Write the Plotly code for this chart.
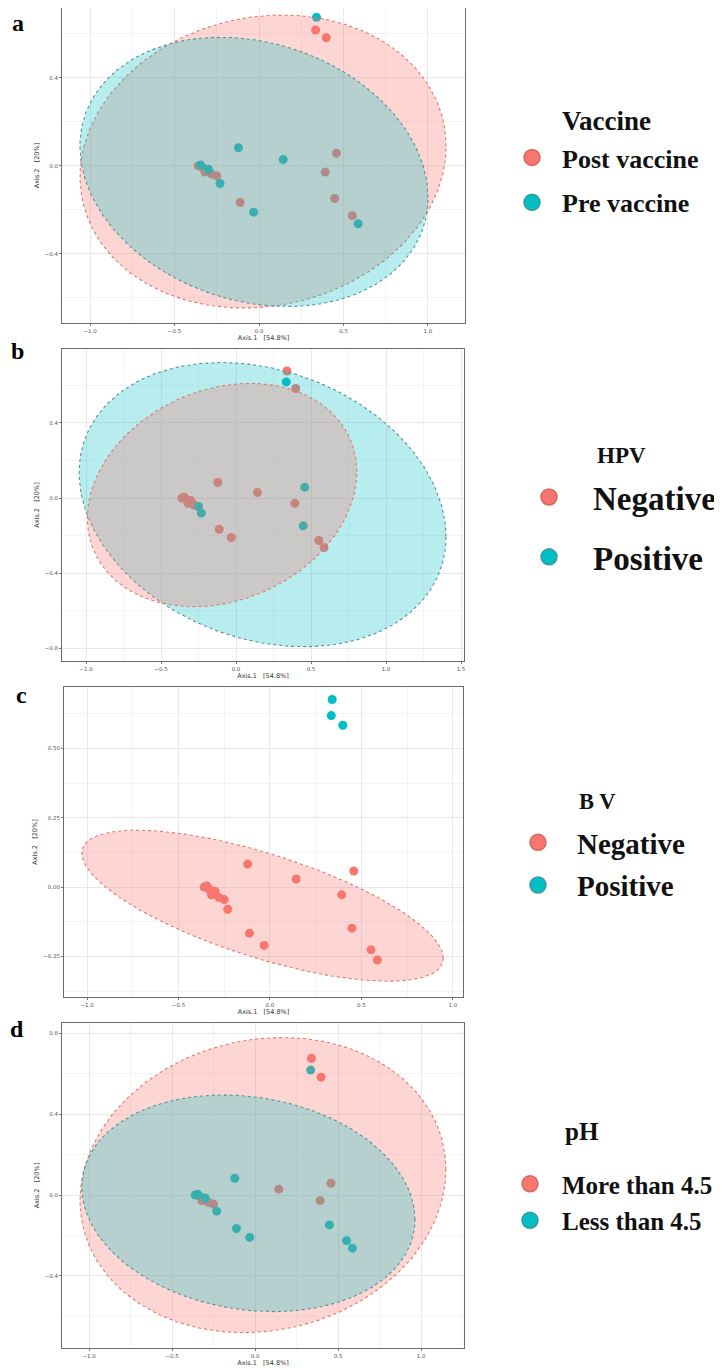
import numpy as np
import plotly.graph_objects as go

# ---------------- data ----------------
# PCoA sample coordinates (Axis.1, Axis.2)
sample_x = [0.340, 0.335, 0.398, -0.122, 0.143, 0.458, 0.392, 0.448, 0.552, 0.587,
            -0.112, -0.032, -0.231, -0.250, -0.360, -0.345, -0.332, -0.320, -0.300, -0.280]
sample_y = [0.676, 0.618, 0.583, 0.083, 0.029, 0.058, -0.028, -0.148, -0.226, -0.263,
            -0.166, -0.210, -0.080, -0.045, 0.000, 0.004, -0.008, -0.028, -0.015, -0.037]

vaccine = ["Pre vaccine", "Post vaccine", "Post vaccine", "Pre vaccine", "Pre vaccine",
           "Post vaccine", "Post vaccine", "Post vaccine", "Post vaccine", "Pre vaccine",
           "Post vaccine", "Pre vaccine", "Pre vaccine", "Post vaccine", "Post vaccine",
           "Pre vaccine", "Post vaccine", "Post vaccine", "Pre vaccine", "Post vaccine"]
hpv = ["Negative", "Positive", "Negative", "Negative", "Negative", "Positive", "Negative",
       "Positive", "Negative", "Negative", "Negative", "Negative", "Positive", "Positive",
       "Negative", "Negative", "Negative", "Negative", "Negative", "Negative"]
bv = ["Positive", "Positive", "Positive"] + ["Negative"] * 17
ph = ["More than 4.5", "Less than 4.5", "More than 4.5", "Less than 4.5", "More than 4.5",
      "More than 4.5", "More than 4.5", "Less than 4.5", "Less than 4.5", "Less than 4.5",
      "Less than 4.5", "Less than 4.5", "Less than 4.5", "More than 4.5", "Less than 4.5",
      "Less than 4.5", "More than 4.5", "More than 4.5", "Less than 4.5", "More than 4.5"]

panel_letters = ["a", "b", "c", "d"]
legend_titles = ["Vaccine", "HPV", "B V", "pH"]
panel_groups = [vaccine, hpv, bv, ph]
group_levels = [["Post vaccine", "Pre vaccine"], ["Negative", "Positive"],
                ["Negative", "Positive"], ["More than 4.5", "Less than 4.5"]]

x_title = "Axis.1   [54.8%]"
y_title = "Axis.2   [20%]"

# ellipse parameters per panel: level -> (cx, cy, half-width x, half-height y, phase deg)
ellipse_params = [
    {"Post vaccine": (0.024, 0.020, 1.083, 0.666, 84), "Pre vaccine": (-0.030, -0.027, 1.030, 0.612, 101)},
    {"Positive": (0.177, -0.035, 1.223, 0.756, 103), "Negative": (-0.093, 0.016, 0.898, 0.594, 78)},
    {"Negative": (-0.041, -0.067, 0.988, 0.272, 134)},
    {"More than 4.5": (0.048, 0.049, 1.102, 0.730, 84), "Less than 4.5": (-0.040, -0.041, 1.004, 0.536, 98.6)},
]
ellipse_order = [["Post vaccine", "Pre vaccine"], ["Positive", "Negative"],
                 ["Negative"], ["More than 4.5", "Less than 4.5"]]

x_ranges = [[-1.166, 1.219], [-1.16, 1.52], [-1.126, 1.055], [-1.163, 1.259]]
y_ranges = [[-0.714, 0.718], [-0.867, 0.793], [-0.396, 0.721], [-0.757, 0.851]]
y_dticks = [0.4, 0.4, 0.25, 0.4]
y_formats = [".1f", ".1f", ".2f", ".1f"]

# ---------------- style ----------------
OFF = 8                      # page body margin of the html page
W, H = 722 - OFF, 1370 - OFF
RED, CYAN = "#F8766D", "#00BFC4"
RED_EDGE, CYAN_EDGE = "#D9675F", "#3E9A9C"
colors = {0: RED, 1: CYAN}
fills = {0: "rgba(248,118,109,0.30)", 1: "rgba(0,191,196,0.28)"}
edges = {0: "#E0766E", 1: "#4F9496"}

# page pixel positions (converted with OFF)
plot_px = [(62, 465, 8, 323), (62, 464, 349, 661), (64, 463, 687, 997), (62, 464, 1023, 1348)]
label_px = [(18, 8), (17, 336), (21, 680), (8, 1014)]

# legend: text start x, middle y between the two rows, font size, symbol-to-text distance
legend_cfg = [
    dict(text_x=562, mid=180, size=26, dist=30, gap=8),
    dict(text_x=593, mid=527, size=33, dist=44, gap=14),
    dict(text_x=577, mid=864, size=29, dist=39, gap=2),
    dict(text_x=562, mid=1202, size=25, dist=32, gap=1),
]
# legend headings: left x, centre y, font size
heading_cfg = [(560, 121, 27), (595, 455, 23), (577, 801, 22.5), (563, 1131, 25)]


def fx(px):
    return min(max((px - OFF) / W, 0), 1)


def fy(py):
    return min(max(1 - (py - OFF) / H, 0), 1)


fig = go.Figure()
SERIF = "Liberation Serif"

for p in range(4):
    sfx = "" if p == 0 else str(p + 1)
    xa, ya = "x" + sfx, "y" + sfx
    lg = "legend" + sfx
    levels = group_levels[p]
    groups = panel_groups[p]
    # points (drawn first, under the ellipses)
    for li, lev in enumerate(levels):
        xs = [sample_x[i] for i in range(len(sample_x)) if groups[i] == lev]
        ys = [sample_y[i] for i in range(len(sample_y)) if groups[i] == lev]
        fig.add_trace(go.Scatter(
            x=xs, y=ys, mode="markers", xaxis=xa, yaxis=ya, showlegend=False,
            marker=dict(size=9, color=colors[li], line=dict(width=0)), hoverinfo="x+y"))
    # ellipses
    t = np.linspace(0, 2 * np.pi, 241)
    for lev in ellipse_order[p]:
        li = levels.index(lev)
        cx, cy, ax_, by_, ph_ = ellipse_params[p][lev]
        ex = cx + ax_ * np.cos(t)
        ey = cy + by_ * np.cos(t - np.deg2rad(ph_))
        fig.add_trace(go.Scatter(
            x=ex, y=ey, mode="lines", fill="toself", fillcolor=fills[li],
            line=dict(color=edges[li], width=1.1, dash="dot"),
            xaxis=xa, yaxis=ya, showlegend=False, hoverinfo="skip"))
    # legend entries
    for li, lev in enumerate(levels):
        fig.add_trace(go.Scatter(
            x=[None], y=[None], mode="markers", name=lev, legend=lg, legendgroup=f"{p}-{lev}",
            xaxis=xa, yaxis=ya,
            marker=dict(size=30, color=colors[li],
                        line=dict(width=1.5, color=RED_EDGE if li == 0 else CYAN_EDGE))))

    x0, x1, y0, y1 = plot_px[p]
    common = dict(showline=True, mirror=True, linecolor="#6b6b6b", linewidth=1,
                  showgrid=True, gridcolor="#E8E8E8", gridwidth=0.7, zeroline=False,
                  ticks="outside", ticklen=2, tickcolor="#777", automargin=False,
                  tickfont=dict(size=5.5, color="#555", family="DejaVu Sans"))
    fig.layout["xaxis" + sfx] = dict(
        common, domain=[fx(x0), fx(x1)], range=x_ranges[p], anchor=ya,
        dtick=0.5, tick0=0, tickformat=".1f",
        minor=dict(showgrid=True, gridcolor="#F4F4F4", dtick=0.25),
        title=dict(text=x_title, font=dict(size=6.5, color="#333", family="DejaVu Sans"), standoff=0))
    fig.layout["yaxis" + sfx] = dict(
        common, domain=[fy(y1), fy(y0)], range=y_ranges[p], anchor=xa,
        dtick=y_dticks[p], tick0=0, tickformat=y_formats[p],
        minor=dict(showgrid=True, gridcolor="#F4F4F4", dtick=y_dticks[p] / 2),
        title=dict(text=y_title, font=dict(size=6.5, color="#333", family="DejaVu Sans"), standoff=4))

    lc = legend_cfg[p]
    iw = 2 * (lc["dist"] - 5)
    left = lc["text_x"] - iw - 10
    fig.layout[lg] = dict(
        x=fx(left), y=fy(lc["mid"]), xanchor="left", yanchor="middle",
        bgcolor="rgba(0,0,0,0)", borderwidth=0, itemwidth=iw, tracegroupgap=lc["gap"],
        itemsizing="trace",
        font=dict(family=SERIF, size=lc["size"], color="#111", weight="bold"))

    hx, hy, hs = heading_cfg[p]
    fig.add_annotation(x=fx(hx), y=fy(hy), xref="paper", yref="paper",
                       text=legend_titles[p], showarrow=False, xanchor="left", yanchor="middle",
                       font=dict(family=SERIF, size=hs, color="#111", weight="bold"))

    lx, ly = label_px[p]
    fig.add_annotation(x=fx(lx), y=fy(ly), xref="paper", yref="paper",
                       text=panel_letters[p], showarrow=False,
                       xanchor="left" if lx - OFF < 8 else "center", yanchor="top",
                       font=dict(family=SERIF, size=24, color="#000", weight="bold"))

fig.update_layout(width=W, height=H, margin=dict(l=0, r=0, t=0, b=0, autoexpand=False),
                  paper_bgcolor="white", plot_bgcolor="white")

fig.write_html("out.html")
